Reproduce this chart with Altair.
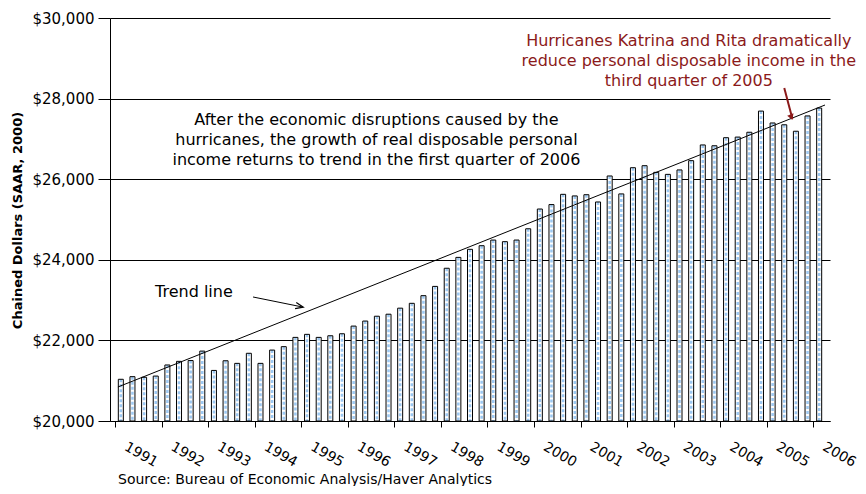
import altair as alt
import numpy as np
import pandas as pd

# ---- data ----
quarters = [f"{y}Q{q}" for y in range(1991, 2006) for q in range(1, 5)] + ["2006Q1"]
income = [
    21035, 21100, 21085, 21115,   # 1991
    21390, 21480, 21500, 21735,   # 1992
    21255, 21495, 21430, 21680,   # 1993
    21430, 21760, 21845, 22075,   # 1994
    22150, 22075, 22115, 22165,   # 1995
    22355, 22480, 22600, 22650,   # 1996
    22800, 22920, 23110, 23340,   # 1997
    23790, 24060, 24260, 24350,   # 1998
    24490, 24450, 24490, 24770,   # 1999
    25260, 25370, 25625, 25585,   # 2000
    25615, 25435, 26080, 25635,   # 2001
    26285, 26335, 26170, 26120,   # 2002
    26230, 26460, 26850, 26830,   # 2003
    27030, 27045, 27165, 27690,   # 2004
    27395, 27350, 27190, 27570,   # 2005
    27765,                        # 2006
]
year_ticks = list(range(0, 61, 4))          # quarter index of each Q1
y_ticks = [20000, 22000, 24000, 26000, 28000, 30000]

trend_pos = [0.25, 61]
trend_val = [20844, 27841]

black_note = [
    "After the economic disruptions caused by the",
    "hurricanes, the growth of real disposable personal",
    "income returns to trend in the first quarter of 2006",
]
black_note_pos = [22.46, 22.46, 22.46]
black_note_val = [27469, 26973, 26476]

red_note = [
    "Hurricanes Katrina and Rita dramatically",
    "reduce personal disposable income in the",
    "third quarter of 2005",
]
red_note_pos = [49.3, 49.3, 49.3]
red_note_val = [29417, 28933, 28449]

trend_label = ["Trend line"]
trend_label_pos = [6.78]
trend_label_val = [23201]

source = ["Source:  Bureau of Economic Analysis/Haver Analytics"]

RED = "#8b1a1a"
FONT = "DejaVu Sans"

df = pd.DataFrame({"quarter": quarters, "income": income})
df["pos"] = np.arange(len(df)) + 0.5
df["base"] = 20000

x_scale = alt.Scale(domain=[0, 61], nice=False, zero=False)
y_scale = alt.Scale(domain=[20000, 30000], nice=False, zero=False)

x_axis = alt.Axis(
    values=year_ticks,
    labelExpr="'' + (1991 + datum.value / 4)",
    labelAngle=30, labelAlign="left", labelBaseline="alphabetic",
    labelOffset=8, labelPadding=22, labelFlush=False, labelOverlap=False,
    labelFont=FONT, labelFontSize=14, labelColor="black",
    tickSize=6, tickColor="black", domainColor="black",
    grid=False, title=None,
)
y_axis = alt.Axis(
    values=y_ticks, format="$,.0f",
    labelFont=FONT, labelFontSize=15, labelColor="black", labelPadding=4,
    tickSize=12, tickColor="black", domainColor="black",
    grid=True, gridColor="black", gridWidth=1, gridOpacity=1,
    title="Chained Dollars (SAAR, 2000)",
    titleFont=FONT, titleFontSize=13, titleFontWeight="bold", titleColor="black",
    titleX=-93, titleY=202, titleAngle=-90, titleAlign="center", titleBaseline="middle",
)


def X(field):
    return alt.X(f"{field}:Q", scale=x_scale, axis=x_axis)


def Y(field):
    return alt.Y(f"{field}:Q", scale=y_scale, axis=y_axis)


bars_fill = alt.Chart(df).mark_bar(size=5, fill="white", strokeWidth=0).encode(
    x=X("pos"), y=Y("income"), y2="base"
)
bars_pattern = alt.Chart(df).mark_rule(
    color="#9cc8f2", strokeWidth=2.5, strokeDash=[3, 2]
).encode(x=X("pos"), y=Y("income"), y2="base")
bars_outline = alt.Chart(df).mark_bar(
    size=5, fill="white", fillOpacity=0, stroke="black", strokeWidth=1
).encode(x=X("pos"), y=Y("income"), y2="base")

trend = alt.Chart(pd.DataFrame({"pos": trend_pos, "income": trend_val})).mark_line(
    color="black", strokeWidth=1
).encode(x=X("pos"), y=Y("income"))

txt_black = alt.Chart(pd.DataFrame({"pos": black_note_pos, "income": black_note_val, "t": black_note})).mark_text(
    font=FONT, fontSize=16, color="black", align="center", baseline="middle"
).encode(x=X("pos"), y=Y("income"), text="t:N")

txt_red = alt.Chart(pd.DataFrame({"pos": red_note_pos, "income": red_note_val, "t": red_note})).mark_text(
    font=FONT, fontSize=16, color=RED, align="center", baseline="middle"
).encode(x=X("pos"), y=Y("income"), text="t:N")

txt_trend = alt.Chart(pd.DataFrame({"pos": trend_label_pos, "income": trend_label_val, "t": trend_label})).mark_text(
    font=FONT, fontSize=16, color="black", align="center", baseline="middle"
).encode(x=X("pos"), y=Y("income"), text="t:N")

# arrows
arrow_black = alt.Chart(pd.DataFrame({"p1": [11.86], "v1": [23077], "p2": [16.1], "v2": [22829]})).mark_rule(
    color="black", strokeWidth=1
).encode(x=X("p1"), x2="p2", y=Y("v1"), y2="v2")
head_black = alt.Chart(pd.DataFrame({"pos": [15.85], "income": [22844]})).mark_point(
    shape="M-0.8,1L0,-1L0.8,1", filled=False, size=60, angle=101, color="black", strokeWidth=1.2, opacity=1
).encode(x=X("pos"), y=Y("income"))

arrow_red = alt.Chart(pd.DataFrame({"p1": [57.5], "v1": [28263], "p2": [58.2], "v2": [27500]})).mark_rule(
    color=RED, strokeWidth=2
).encode(x=X("p1"), x2="p2", y=Y("v1"), y2="v2")
head_red = alt.Chart(pd.DataFrame({"pos": [58.11], "income": [27538]})).mark_point(
    shape="triangle-up", filled=True, size=45, angle=160, color=RED, opacity=1
).encode(x=X("pos"), y=Y("income"))

src = alt.Chart(pd.DataFrame({"t": source})).mark_text(
    font=FONT, fontSize=14, color="black", align="left", baseline="middle"
).encode(x=alt.value(8), y=alt.value(462), text="t:N")

chart = alt.layer(
    bars_fill, bars_pattern, bars_outline, trend,
    txt_black, txt_red, txt_trend,
    arrow_black, head_black, arrow_red, head_red, src,
).properties(
    width=720, height=403,
    autosize=alt.AutoSizeParams(type="none"),
    padding={"left": 102, "top": 10, "right": 28, "bottom": 65},
    background="white",
).configure_view(strokeWidth=0)

chart.save("out.html", embed_options={"renderer": "svg", "actions": False})
